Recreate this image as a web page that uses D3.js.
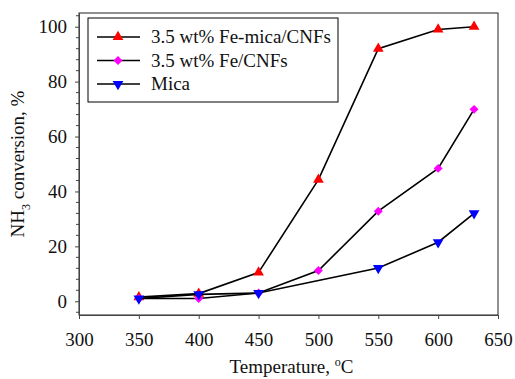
<!DOCTYPE html>
<html>
<head>
<meta charset="utf-8">
<script src="https://cdn.jsdelivr.net/npm/d3@7"></script>
<style>
    body { margin: 0; background: #fff; }
</style>
</head>
<body>
<svg id="chart" width="515" height="379"></svg>
<script>
const temps = [350, 400, 450, 500, 550, 600, 630]
const feMica = [1.5, 2.8, 10.5, 44.3, 92, 99, 100]
const feCnf = [1, 1, 3, 11.2, 32.8, 48.4, 69.9]
const micaTemps = [350, 400, 450, 550, 600, 630]
const mica = [1, 2.5, 3, 12.1, 21.5, 32]
const xTicks = [300, 350, 400, 450, 500, 550, 600, 650]
const yTicks = [0, 20, 40, 60, 80, 100]

const series = [
    { name: '3.5 wt% Fe-mica/CNFs', x: temps, y: feMica, color: '#ff0000', symbol: 'up' },
    { name: '3.5 wt% Fe/CNFs', x: temps, y: feCnf, color: '#ff00ff', symbol: 'diamond' },
    { name: 'Mica', x: micaTemps, y: mica, color: '#0000ff', symbol: 'down' }
]

const serif = '"Liberation Serif", "Times New Roman", serif'
const svg = d3.select('#chart').attr('font-family', serif)
const plotL = 79, plotR = 498, plotT = 13, plotB = 315

const x = d3.scaleLinear().domain([300, 650]).range([plotL, plotR])
const y = d3.scaleLinear().domain([-5, 105]).range([plotB, plotT])

// frame
svg.append('rect')
    .attr('x', plotL).attr('y', plotT)
    .attr('width', plotR - plotL).attr('height', plotB - plotT)
    .attr('fill', 'none').attr('stroke', '#222').attr('stroke-width', 1)

// axes
const xAxis = svg.append('g')
    .attr('transform', `translate(0,${plotB})`)
    .call(d3.axisBottom(x).tickValues(xTicks).tickSize(4).tickSizeOuter(0))
    .attr('font-family', serif)
xAxis.select('.domain').attr('stroke', '#444')
xAxis.selectAll('line').attr('stroke', '#444')
xAxis.selectAll('text').attr('font-size', 19).attr('fill', '#111').attr('dy', '1.25em')

const yAxis = svg.append('g')
    .attr('transform', `translate(${plotL},0)`)
    .call(d3.axisLeft(y).tickValues(yTicks).tickSize(4).tickSizeOuter(0))
    .attr('font-family', serif)
yAxis.select('.domain').attr('stroke', '#444')
yAxis.selectAll('line').attr('stroke', '#444')
yAxis.selectAll('text').attr('font-size', 19).attr('fill', '#111').attr('x', -12)

// minor y ticks
svg.append('g')
    .selectAll('line')
    .data(d3.range(-4, 105, 4).filter(v => v % 20 != 0))
    .enter()
    .append('line')
    .attr('x1', plotL - 3).attr('x2', plotL)
    .attr('y1', d => y(d)).attr('y2', d => y(d))
    .attr('stroke', '#444')

// titles
svg.append('text')
    .attr('x', (plotL + plotR) / 2 + 3).attr('y', 373)
    .attr('text-anchor', 'middle').attr('font-size', 19).attr('fill', '#111')
    .html('Temperature, <tspan dy="-7" font-size="12">o</tspan><tspan dy="7">C</tspan>')

svg.append('text')
    .attr('transform', `translate(24,${(plotT + plotB) / 2}) rotate(-90)`)
    .attr('text-anchor', 'middle').attr('font-size', 19).attr('fill', '#111')
    .html('NH<tspan dy="6" font-size="12">3</tspan><tspan dy="-6"> conversion, %</tspan>')

const symbolFor = (s) => {
    if (s == 'diamond') return d3.symbol().type(d3.symbolSquare).size(40)()
    return d3.symbol().type(d3.symbolTriangle).size(50)()
}
const rotFor = (s) => s == 'down' ? ' rotate(180)' : (s == 'diamond' ? ' rotate(45)' : '')

const line = d3.line().x(d => x(d[0])).y(d => y(d[1]))

series.forEach(s => {
    const pts = s.x.map((t, i) => [t, s.y[i]])
    svg.append('path')
        .attr('d', line(pts))
        .attr('fill', 'none').attr('stroke', '#000').attr('stroke-width', 1.6)
    svg.append('g')
        .selectAll('path')
        .data(pts)
        .enter()
        .append('path')
        .attr('d', symbolFor(s.symbol))
        .attr('transform', d => `translate(${x(d[0])},${y(d[1])})` + rotFor(s.symbol))
        .attr('fill', s.color)
})

// legend
const legend = svg.append('g')
legend.append('rect')
    .attr('x', 88).attr('y', 18).attr('width', 250).attr('height', 84)
    .attr('fill', '#fff').attr('stroke', '#000').attr('stroke-width', 1)
series.forEach((s, i) => {
    const ly = 37 + i * 23.5
    legend.append('line')
        .attr('x1', 97).attr('x2', 140).attr('y1', ly).attr('y2', ly)
        .attr('stroke', '#000').attr('stroke-width', 1.6)
    legend.append('path')
        .attr('d', symbolFor(s.symbol))
        .attr('transform', `translate(118,${ly})` + rotFor(s.symbol))
        .attr('fill', s.color)
    legend.append('text')
        .attr('x', 151).attr('y', ly + 6)
        .attr('font-size', 19).attr('fill', '#111')
        .text(s.name)
})
</script>
</body>
</html>
